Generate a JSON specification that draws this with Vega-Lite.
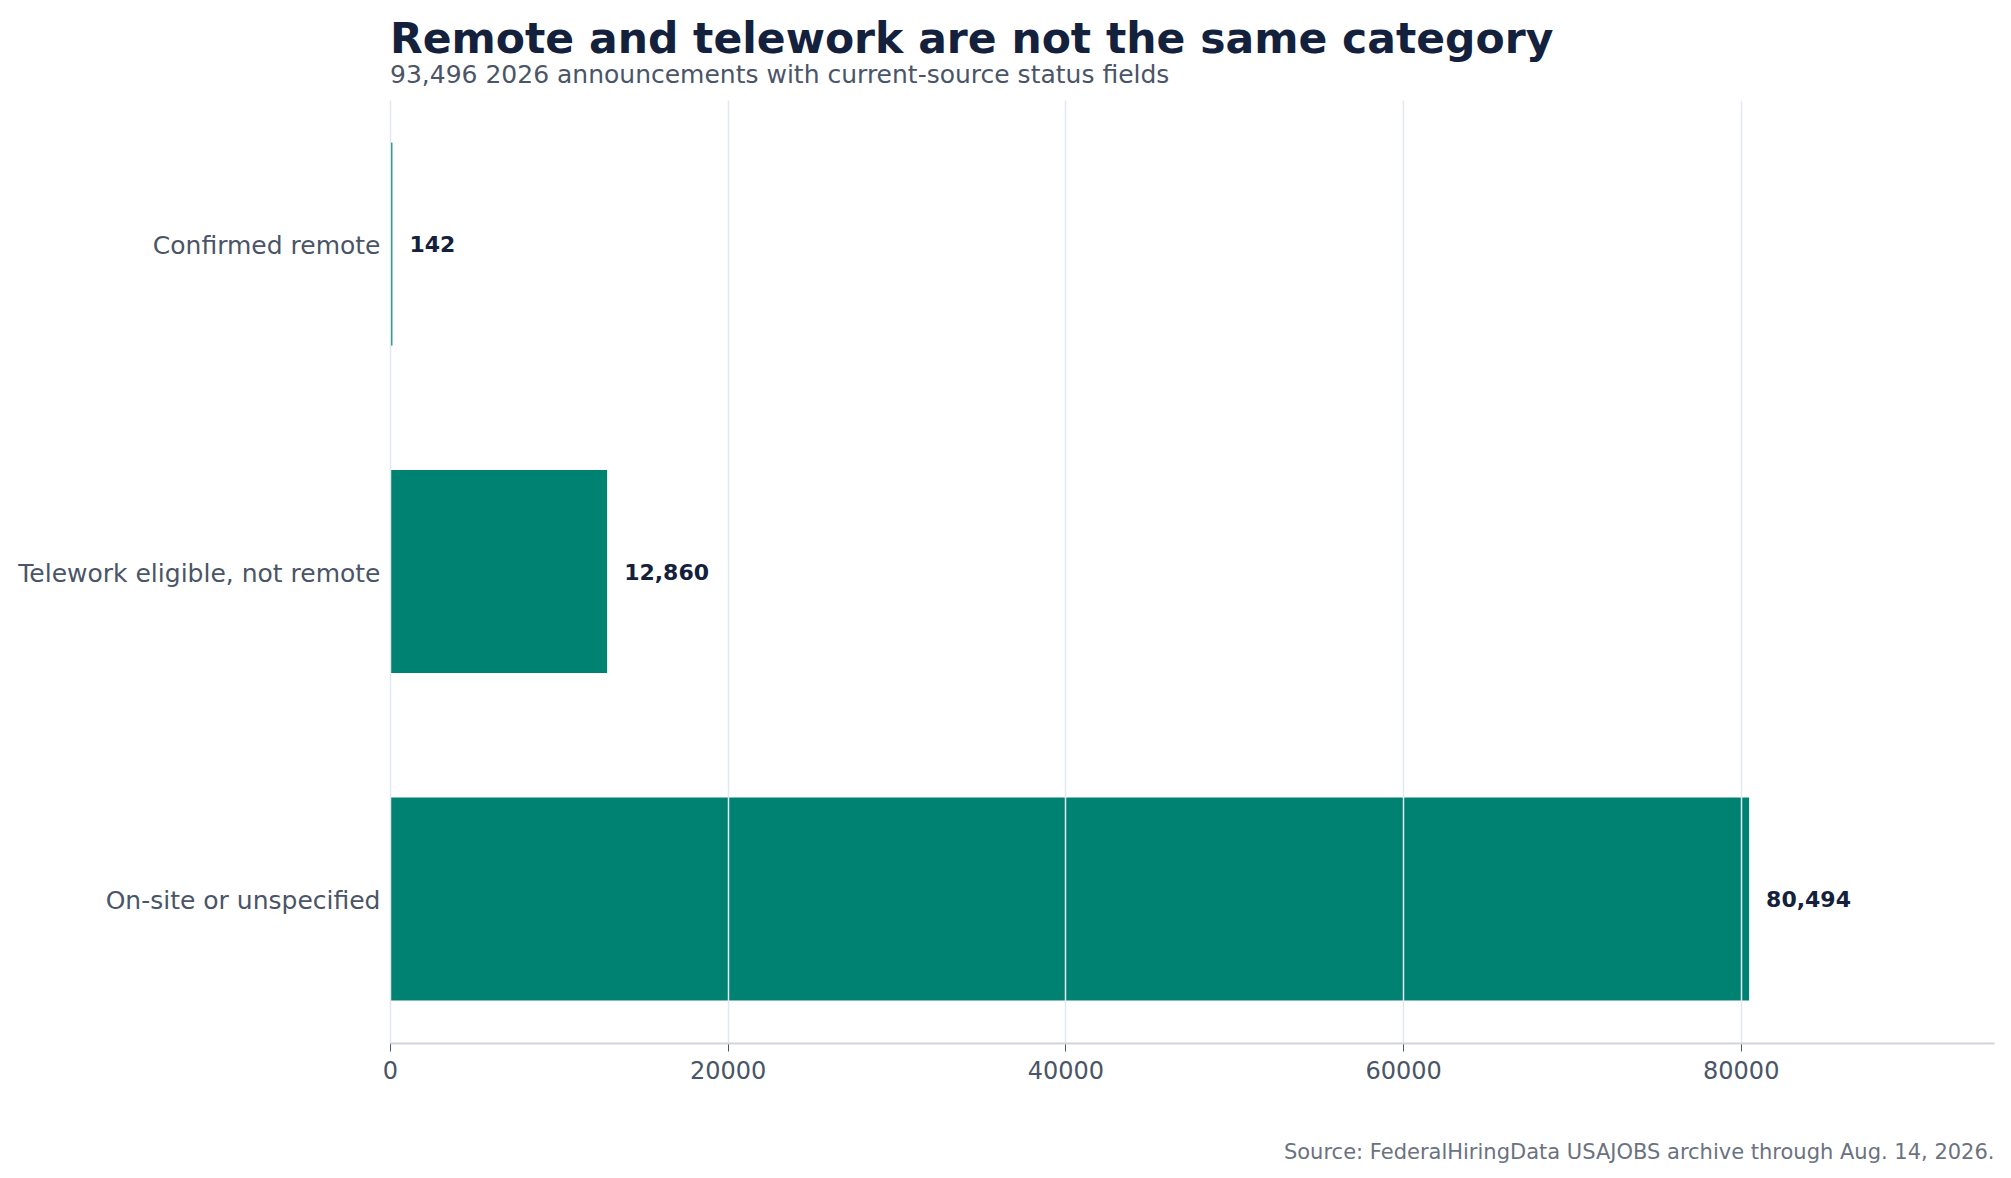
{
  "$schema": "https://vega.github.io/schema/vega-lite/v6.json",
  "autosize": "none",
  "width": 1604,
  "height": 943,
  "padding": {"left": 390, "top": 100, "right": 17, "bottom": 135},
  "background": "white",
  "config": {
    "font": "DejaVu Sans",
    "view": {"stroke": null},
    "title": {
      "font": "DejaVu Sans",
      "fontSize": 42.5,
      "fontWeight": "bold",
      "color": "#14213d",
      "anchor": "start",
      "frame": "group",
      "subtitleFont": "DejaVu Sans",
      "subtitleFontSize": 25,
      "subtitleColor": "#4a5568",
      "subtitlePadding": 2,
      "offset": 12
    }
  },
  "title": {
    "text": "Remote and telework are not the same category",
    "subtitle": "93,496 2026 announcements with current-source status fields"
  },
  "data": {
    "values": [
      {"status": "Confirmed remote", "count": 142},
      {"status": "Telework eligible, not remote", "count": 12860},
      {"status": "On-site or unspecified", "count": 80494}
    ]
  },
  "encoding": {
    "y": {
      "field": "status",
      "type": "nominal",
      "sort": null,
      "scale": {"paddingInner": 0.38, "paddingOuter": 0.13},
      "axis": {
        "title": null,
        "domain": false,
        "ticks": false,
        "labelFontSize": 25,
        "labelColor": "#4a5568",
        "labelPadding": 10,
        "labelOffset": 2,
        "labelLimit": 600
      }
    },
    "x": {
      "field": "count",
      "type": "quantitative",
      "scale": {"domain": [0, 95000], "nice": false},
      "axis": {
        "values": [0, 20000, 40000, 60000, 80000],
        "format": "d",
        "labelFlush": false,
        "zindex": 1,
        "grid": true,
        "gridColor": "#e2e8f0",
        "gridWidth": 1.5,
        "domainColor": "#d1d5db",
        "domainWidth": 2,
        "tickColor": "#4b5563",
        "tickSize": 8,
        "labelFontSize": 24,
        "labelColor": "#4a5568",
        "labelPadding": 8,
        "title": "Source: FederalHiringData USAJOBS archive through Aug. 14, 2026.",
        "titleAnchor": "end",
        "titleAlign": "right",
        "titleFontSize": 21,
        "titleFontWeight": "normal",
        "titleColor": "#6b7280",
        "titlePadding": 58
      }
    }
  },
  "layer": [
    {
      "mark": {"type": "bar", "color": "#008272"}
    },
    {
      "mark": {
        "type": "text",
        "align": "left",
        "baseline": "middle",
        "dx": 17,
        "dy": 1,
        "fontSize": 22,
        "fontWeight": "bold",
        "color": "#14213d"
      },
      "encoding": {
        "text": {"field": "count", "type": "quantitative", "format": ","}
      }
    }
  ]
}
